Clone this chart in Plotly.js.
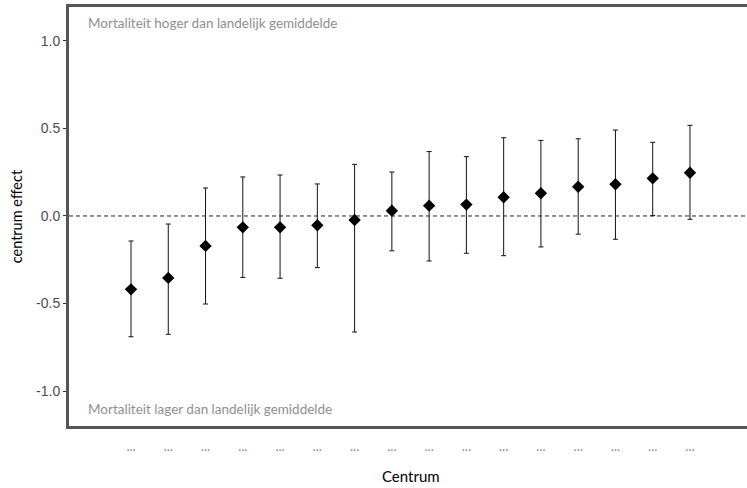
<!DOCTYPE html>
<html>
<head>
<meta charset="utf-8">
<script src="https://cdn.plot.ly/plotly-3.0.1.min.js"></script>
<style>body{margin:0;padding:0;background:#fff}#chart{width:747px;height:488px}</style>
</head>
<body>
<div id="chart"></div>
<script>
// Centers (1..16) and their effects with confidence intervals
const centra = [1,2,3,4,5,6,7,8,9,10,11,12,13,14,15,16];
const centerLabels = ["...","...","...","...","...","...","...","...","...","...","...","...","...","...","...","..."];
const effect = [-0.419,-0.354,-0.171,-0.065,-0.065,-0.053,-0.023,0.030,0.059,0.065,0.107,0.130,0.167,0.181,0.215,0.247];
const upper  = [-0.143,-0.046,0.160,0.223,0.234,0.183,0.295,0.251,0.368,0.339,0.447,0.432,0.441,0.491,0.421,0.518];
const lower  = [-0.690,-0.676,-0.503,-0.351,-0.356,-0.295,-0.663,-0.199,-0.257,-0.213,-0.227,-0.177,-0.104,-0.133,0.002,-0.019];
const yTicks = [-1.0,-0.5,0.0,0.5,1.0];
const yTickText = ["-1.0","-0.5","0.0","0.5","1.0"];

const errPlus = effect.map((v,i)=>upper[i]-v);
const errMinus = effect.map((v,i)=>v-lower[i]);

const trace = {
  x: centra, y: effect, type: 'scatter', mode: 'markers',
  marker: {symbol: 'diamond', size: 9.5, color: '#000'},
  error_y: {type: 'data', symmetric: false, array: errPlus, arrayminus: errMinus,
            color: '#111', thickness: 1, width: 2.5},
  hoverinfo: 'skip', showlegend: false
};

const layout = {
  width: 747, height: 488,
  margin: {l: 69, r: 0, t: 7, b: 62, pad: 0},
  paper_bgcolor: '#fff', plot_bgcolor: '#fff',
  showlegend: false,
  xaxis: {
    range: [-0.664, 17.53], tickmode: 'array', tickvals: centra, ticktext: centerLabels,
    showgrid: false, zeroline: false, showline: true, mirror: true, linecolor: '#555', linewidth: 3,
    ticks: '', ticklabelstandoff: 6, tickfont: {family: 'Lato', size: 13, color: '#8a8a8a'}, fixedrange: true
  },
  yaxis: {
    range: [-1.2, 1.194], tickmode: 'array', tickvals: yTicks, ticktext: yTickText,
    showgrid: false, zeroline: false, showline: true, linecolor: '#555', linewidth: 3,
    ticks: 'outside', ticklen: 3, tickwidth: 1, tickcolor: '#333',
    tickfont: {family: 'Liberation Sans, Arial, sans-serif', size: 14, color: '#4d4d4d'},
    fixedrange: true
  },
  shapes: [{
    type: 'line', xref: 'paper', x0: 0, x1: 1, yref: 'y', y0: 0, y1: 0,
    line: {color: '#222', width: 1, dash: '4px,3px'}
  }],
  annotations: [
    {text: 'Mortaliteit hoger dan landelijk gemiddelde', xref: 'paper', yref: 'paper',
     x: 0.025, y: 0.962, xanchor: 'left', yanchor: 'middle', showarrow: false,
     font: {family: 'Lato', size: 13.5, color: '#8f8f8f'}},
    {text: 'Mortaliteit lager dan landelijk gemiddelde', xref: 'paper', yref: 'paper',
     x: 0.025, y: 0.041, xanchor: 'left', yanchor: 'middle', showarrow: false,
     font: {family: 'Lato', size: 13.5, color: '#8f8f8f'}},
    {text: 'Centrum', xref: 'paper', yref: 'paper', x: (411-69)/678, y: -0.12,
     xanchor: 'center', yanchor: 'middle', showarrow: false,
     font: {family: 'Lato', size: 15, color: '#000'}},
    {text: 'centrum effect', xref: 'paper', yref: 'paper', x: -0.077, y: 0.5,
     xanchor: 'center', yanchor: 'middle', textangle: -90, showarrow: false,
     font: {family: 'Lato', size: 14.5, color: '#000'}}
  ]
};

Plotly.newPlot('chart', [trace], layout, {displayModeBar: false, staticPlot: true});
</script>
</body>
</html>
